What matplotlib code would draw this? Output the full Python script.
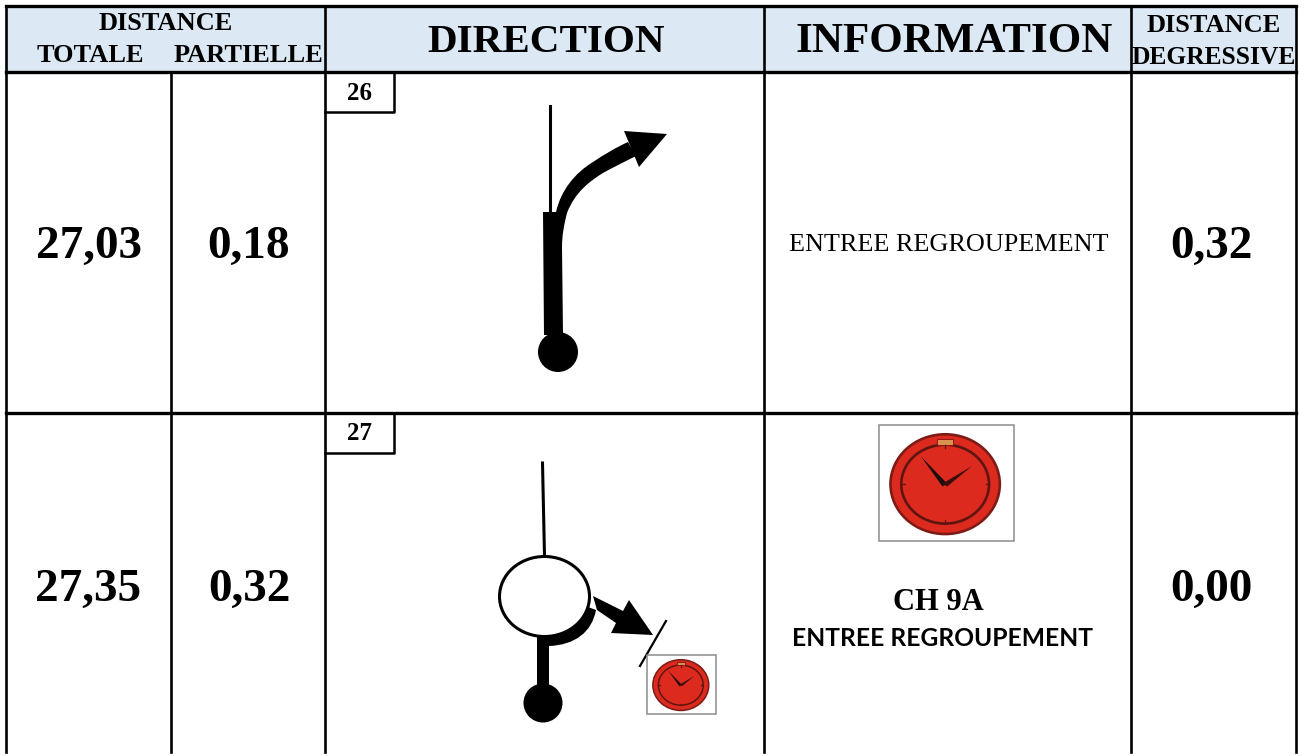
import matplotlib
matplotlib.use('Agg')
import matplotlib.pyplot as plt
import matplotlib.patches as mpatches
from matplotlib.path import Path

# table content
col_edges = [5.5, 171, 325, 764, 1131, 1296]
row_edges = [6, 72, 413, 752]
dist_totale = ['27,03', '27,35']
dist_partielle = ['0,18', '0,32']
dist_degressive = ['0,32', '0,00']
case_numbers = ['26', '27']
info_row1 = 'ENTREE REGROUPEMENT'
info_row2 = ['CH 9A', 'ENTREE REGROUPEMENT']

HEADER_BLUE = '#dce9f5'
SERIF = 'Liberation Serif'
M, L, C4 = Path.MOVETO, Path.LINETO, Path.CURVE4

fig = plt.figure(figsize=(13.09, 7.56), dpi=100)
ax = fig.add_axes([0, 0, 1, 1])
ax.set_xlim(0, 1309)
ax.set_ylim(756, 0)
ax.axis('off')


def blob(verts, codes, zorder=3):
    ax.add_patch(mpatches.PathPatch(Path(verts, codes), fc='black', ec='none', zorder=zorder))


def poly(pts, zorder=4, color='black'):
    ax.add_patch(mpatches.Polygon(pts, closed=True, fc=color, ec='none', zorder=zorder))


def clock(x0, y0, x1, y1):
    # clock picture, everything scaled from its frame
    w = x1 - x0
    h = y1 - y0
    k = w / 135
    cx = x0 + 0.49 * w
    cy = y0 + 0.51 * h
    ax.add_patch(mpatches.Rectangle((x0, y0), w, h, fc='white', ec='#8c8c8c', lw=1.1, zorder=3))
    ax.add_patch(mpatches.Ellipse((cx, cy), 0.81 * w, 0.86 * h, fc='#dc2a1e', ec='#7d1c16', lw=1.6 * k + 0.3, zorder=4))
    ax.add_patch(mpatches.Ellipse((cx, cy), 0.65 * w, 0.68 * h, fc='none', ec='#5e1510', lw=1.7 * k + 0.2, zorder=5))
    ax.add_patch(mpatches.Rectangle((cx - 0.06 * w, y0 + 0.12 * h), 0.12 * w, 0.05 * h,
                                    fc='#d9924f', ec='#8a1a14', lw=0.7, zorder=6))
    poly([(cx - 0.18 * w, cy - 0.24 * h), (cx + 0.015 * w, cy - 0.005 * h), (cx - 0.02 * w, cy + 0.02 * h)], 6, '#1c0d0a')
    poly([(cx + 0.20 * w, cy - 0.157 * h), (cx + 0.015 * w, cy + 0.02 * h), (cx - 0.02 * w, cy - 0.005 * h)], 6, '#3a0f0b')
    for dx, dy in [(0, 0.34), (0, -0.34), (-0.325, 0), (0.325, 0)]:
        ax.plot([cx + dx * w * 0.92, cx + dx * w], [cy + dy * h * 0.92, cy + dy * h],
                color='#5e1510', lw=0.9, zorder=6)


# header band
ax.add_patch(mpatches.Rectangle((col_edges[0], row_edges[0]), col_edges[-1] - col_edges[0],
                                row_edges[1] - row_edges[0], fc=HEADER_BLUE, ec='none', zorder=1))

# grid
for x in [col_edges[0], col_edges[2], col_edges[3], col_edges[4], col_edges[5]]:
    ax.plot([x, x], [row_edges[0], row_edges[-1]], color='black', lw=1.9, zorder=2, solid_capstyle='projecting')
ax.plot([col_edges[1]] * 2, [row_edges[1], row_edges[-1]], color='black', lw=1.9, zorder=2)
for y in row_edges[:3]:
    ax.plot([col_edges[0], col_edges[-1]], [y, y], color='black', lw=2.4, zorder=2, solid_capstyle='projecting')

# header text
ax.text(166, 24, 'DISTANCE', family=SERIF, weight='bold', size=19, ha='center', va='center')
ax.text(90, 56, 'TOTALE', family=SERIF, weight='bold', size=19, ha='center', va='center')
ax.text(248, 56, 'PARTIELLE', family=SERIF, weight='bold', size=19, ha='center', va='center')
ax.text(546, 42, 'DIRECTION', family=SERIF, weight='bold', size=29.6, ha='center', va='center')
ax.text(954, 42, 'INFORMATION', family=SERIF, weight='bold', size=31, ha='center', va='center')
ax.text(1214, 25, 'DISTANCE', family=SERIF, weight='bold', size=19, ha='center', va='center')
ax.text(1214, 58, 'DEGRESSIVE', family=SERIF, weight='bold', size=18.4, ha='center', va='center')

# values
row_y = [245, 588]
for i in range(2):
    ax.text(88.5, row_y[i] + 2, dist_totale[i], family=SERIF, weight='bold', size=34, ha='center', va='center')
    ax.text(249, row_y[i] + 2, dist_partielle[i], family=SERIF, weight='bold', size=34, ha='center', va='center')
    ax.text(1211, row_y[i] + 2, dist_degressive[i], family=SERIF, weight='bold', size=34, ha='center', va='center')

# case numbers
for i, top in enumerate([72, 413]):
    ax.plot([325, 394, 394], [top + 40, top + 40, top], color='black', lw=1.8, zorder=2)
    ax.text(360, top + 21, case_numbers[i], family=SERIF, weight='bold', size=18, ha='center', va='center')

# information
ax.text(949, 245, info_row1, family=SERIF, size=18.8, ha='center', va='center')
clock(879, 425, 1014, 541)
ax.text(938, 602, info_row2[0], family=SERIF, weight='bold', size=22, ha='center', va='center')
ax.text(942, 639, info_row2[1], family='Lato', weight='bold', size=17.7, ha='center', va='center')

# first sketch: fork to the right
ax.plot([549.5, 549.5], [106, 214], color='black', lw=2.2, zorder=3)
blob([(543, 212), (556, 212),
      (561, 190), (575, 173), (593, 162),
      (605, 154), (615, 148), (628, 142),
      (636, 156),
      (620, 164), (610, 169), (603, 173),
      (590, 181), (575, 192), (567, 213),
      (564, 225), (562, 235), (562, 247),
      (563, 335), (544, 335), (543, 212)],
     [M, L, C4, C4, C4, C4, C4, C4, L, C4, C4, C4, C4, C4, C4, C4, C4, C4, L, L, Path.CLOSEPOLY])
poly([(624, 131), (667, 134), (639, 167)])
ax.add_patch(mpatches.Ellipse((558, 352), 40, 40, fc='black', ec='none', zorder=4))

# second sketch: roundabout with exit to the right
ax.plot([542.5, 544.5], [463, 556], color='black', lw=2.2, zorder=3)
blob([(537, 630), (537, 647), (549, 646),
      (575, 645), (592, 632), (596, 610),
      (570, 600), (537, 630)],
     [M, L, L, C4, C4, C4, L, Path.CLOSEPOLY])
ax.add_patch(mpatches.Ellipse((544.5, 596.5), 90, 80, fc='white', ec='black', lw=2.2, zorder=4))
ax.add_patch(mpatches.Rectangle((537, 640), 12, 50, fc='black', ec='none', zorder=3))
ax.add_patch(mpatches.Ellipse((543, 703), 39, 39, fc='black', ec='none', zorder=4))
poly([(593, 596), (623, 611), (629, 600), (653, 635), (611, 633), (616, 623), (597, 610)])
ax.plot([640, 666], [666, 621], color='black', lw=1.6, zorder=3)
clock(647, 655, 716, 714)

fig.savefig('out.png', dpi=100)
